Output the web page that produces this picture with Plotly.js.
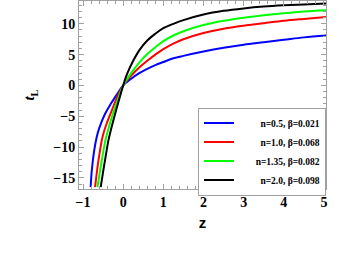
<!DOCTYPE html>
<html>
<head>
<meta charset="utf-8">
<script src="https://cdn.plot.ly/plotly-3.0.1.min.js"></script>
<style>html,body{margin:0;padding:0;background:#fff;}#chart{width:346px;height:277px;}</style>
</head>
<body>
<div id="chart"></div>
<script>
// Series
const names = ["n=0.5, \u03B2=0.021", "n=1.0, \u03B2=0.068", "n=1.35, \u03B2=0.082", "n=2.0, \u03B2=0.098"];
const colors = ["#0000ff", "#ff0000", "#00ff00", "#000000"];

const zBlue = [-0.81, -0.78, -0.72, -0.66, -0.6, -0.45, -0.3, -0.15, 0, 0.2, 0.4, 0.6, 0.8, 1.0, 1.25, 1.5, 2.0, 2.5, 3.0, 3.5, 4.0, 4.5, 5.05];
const tBlue = [-16.5, -13.7, -10.5, -8.4, -7.0, -4.6, -2.9, -1.4, 0, 1.1, 2.0, 2.7, 3.3, 3.8, 4.4, 4.8, 5.5, 6.1, 6.6, 7.0, 7.4, 7.8, 8.1];

const zRed = [-0.70, -0.63, -0.575, -0.53, -0.47, -0.4, -0.28, -0.15, 0, 0.2, 0.4, 0.6, 0.8, 1.0, 1.25, 1.5, 2.0, 2.5, 3.0, 3.5, 4.0, 4.5, 5.05];
const tRed = [-16.5, -12.8, -10.5, -8.8, -7.3, -6.0, -4.0, -1.9, 0, 1.6, 2.9, 4.0, 5.0, 5.9, 6.8, 7.5, 8.5, 9.2, 9.7, 10.1, 10.5, 10.8, 11.1];

const zGreen = [-0.64, -0.56, -0.49, -0.44, -0.38, -0.3, -0.225, -0.1, 0, 0.2, 0.4, 0.6, 0.8, 1.0, 1.25, 1.5, 2.0, 2.5, 3.0, 3.5, 4.0, 4.5, 5.05];
const tGreen = [-16.5, -13.2, -10.5, -8.8, -7.3, -5.5, -4.0, -1.7, 0, 2.0, 3.7, 5.1, 6.2, 7.2, 8.1, 8.8, 9.8, 10.5, 11.0, 11.4, 11.7, 12.0, 12.2];

const zBlack = [-0.56, -0.48, -0.41, -0.37, -0.31, -0.25, -0.175, -0.08, 0, 0.1, 0.25, 0.4, 0.6, 0.8, 1.0, 1.25, 1.5, 2.0, 2.5, 3.0, 3.5, 4.0, 4.5, 5.05];
const tBlack = [-16.5, -13.2, -10.5, -9.0, -7.3, -5.8, -4.0, -1.8, 0, 1.9, 4.0, 5.7, 7.3, 8.4, 9.3, 10.0, 10.6, 11.5, 12.1, 12.5, 12.8, 13.0, 13.15, 13.3];

const xs = [zBlue, zRed, zGreen, zBlack];
const ys = [tBlue, tRed, tGreen, tBlack];

const pad = "\u00A0\u00A0\u00A0\u00A0\u00A0\u00A0\u00A0";
const extra = ["\u00A0\u00A0", "\u00A0\u00A0", "", "\u00A0\u00A0"];

const traces = xs.map((x, i) => ({
  x: x, y: ys[i], type: "scatter", mode: "lines",
  name: pad + extra[i] + names[i],
  line: {color: colors[i], width: 2, shape: "spline", smoothing: 1.0}
}));

const axisCommon = {
  showgrid: false, zeroline: false, showline: true, mirror: "ticks",
  linecolor: "#a0a0a0", linewidth: 1,
  ticks: "inside", ticklen: 5, tickcolor: "#a0a0a0", tickwidth: 1,
  tickfont: {family: "Liberation Serif, Times New Roman, serif", size: 14, color: "#000", weight: "bold"}
};

const layout = {
  width: 346, height: 277,
  margin: {l: 79, r: 20, t: 1, b: 88},
  paper_bgcolor: "#fff", plot_bgcolor: "#fff",
  showlegend: true,
  legend: {
    x: 1, xanchor: "right", y: -0.035, yanchor: "bottom",
    bgcolor: "#fff", bordercolor: "#a0a0a0", borderwidth: 1,
    font: {family: "Liberation Serif, Times New Roman, serif", size: 9.5, color: "#000", weight: "bold"},
    tracegroupgap: 0, itemwidth: 30
  },
  xaxis: Object.assign({}, axisCommon, {
    range: [-1.1, 5.05], dtick: 1, tick0: 0,
    minor: {ticks: "inside", ticklen: 3, tickcolor: "#a0a0a0", dtick: 0.2, tick0: 0, showgrid: false},
    title: {text: "z", font: {family: "Liberation Sans, Arial, sans-serif", size: 15, color: "#000", weight: "bold"}, standoff: 8}
  }),
  yaxis: Object.assign({}, axisCommon, {
    range: [-16.8, 13.7], dtick: 5, tick0: 0,
    minor: {ticks: "inside", ticklen: 3, tickcolor: "#a0a0a0", dtick: 1, tick0: 0, showgrid: false},
    title: {text: "<i>t</i><sub>L</sub>", font: {family: "Liberation Serif, Times New Roman, serif", size: 15, color: "#000", weight: "bold"}, standoff: 14}
  })
};

Plotly.newPlot("chart", traces, layout, {displayModeBar: false, staticPlot: true});
</script>
</body>
</html>
